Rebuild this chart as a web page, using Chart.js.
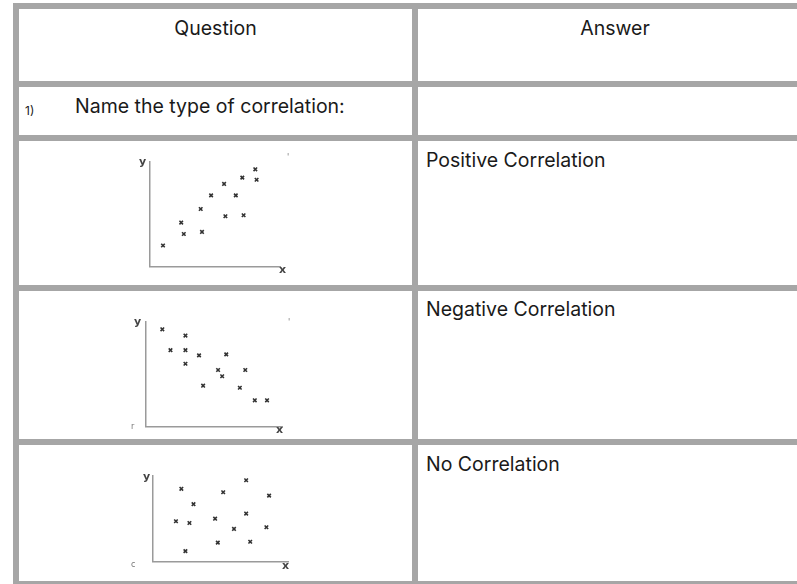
<!DOCTYPE html>
<html>
<head>
<meta charset="utf-8">
<script src="https://cdn.jsdelivr.net/npm/chart.js@4/dist/chart.umd.min.js"></script>
<style>
  body { margin: 0; background: #fff; width: 797px; height: 584px; overflow: hidden; position: relative; font-family: Inter, "Noto Sans", sans-serif; color: #1a1a1a; }
  .rule { position: absolute; background: #a6a6a6; }
  .txt { position: absolute; font-size: 19.5px; line-height: 19.5px; white-space: nowrap; }
  .lbl { position: absolute; font-family: "DejaVu Sans", sans-serif; font-weight: bold; font-size: 11px; line-height: 11px; color: #444; }
  .mark { position: absolute; font-family: "DejaVu Sans", sans-serif; font-size: 8px; line-height: 8px; color: #777; }
  canvas { position: absolute; }
</style>
</head>
<body>
<!-- table grid -->
<div class="rule" style="left:13px;top:3px;width:800px;height:6px"></div>
<div class="rule" style="left:13px;top:3px;width:6px;height:600px"></div>
<div class="rule" style="left:412px;top:3px;width:6px;height:600px"></div>
<div class="rule" style="left:13px;top:81px;width:800px;height:6px"></div>
<div class="rule" style="left:13px;top:135px;width:800px;height:6px"></div>
<div class="rule" style="left:13px;top:285px;width:800px;height:6px"></div>
<div class="rule" style="left:13px;top:439px;width:800px;height:6px"></div>
<div class="rule" style="left:13px;top:581px;width:800px;height:6px"></div>

<div class="txt" style="left:19px;width:393px;text-align:center;top:19px">Question</div>
<div class="txt" style="left:418px;width:394px;text-align:center;top:19px">Answer</div>
<div class="txt" style="left:25px;top:105px;font-size:12px;line-height:12px">1)</div>
<div class="txt" style="left:75px;top:97px">Name the type of correlation:</div>
<div class="txt" style="left:426px;top:151px">Positive Correlation</div>
<div class="txt" style="left:426px;top:300px">Negative Correlation</div>
<div class="txt" style="left:426px;top:455px">No Correlation</div>

<canvas id="posChart"></canvas>
<canvas id="negChart"></canvas>
<canvas id="noneChart"></canvas>

<div class="lbl" style="left:139px;top:156px">y</div>
<div class="lbl" style="left:279px;top:264px">x</div>
<div class="mark" style="left:287px;top:154px">'</div>
<div class="lbl" style="left:134px;top:316px">y</div>
<div class="lbl" style="left:276px;top:424px">x</div>
<div class="mark" style="left:288px;top:319px">'</div>
<div class="mark" style="left:131px;top:423px">r</div>
<div class="lbl" style="left:143px;top:471px">y</div>
<div class="lbl" style="left:282px;top:560px">x</div>
<div class="mark" style="left:131px;top:561px">c</div>

<script>
// axis range shared by the three sketches
var axisMin = 0;
var axisMax = 10;

// positive correlation
var posX = [1.0, 2.4, 2.6, 4.0, 3.9, 4.7, 5.7, 5.8, 6.6, 7.1, 7.2, 8.1, 8.2];
var posY = [2.0, 4.2, 3.1, 3.3, 5.5, 6.8, 7.9, 4.8, 6.8, 8.5, 4.9, 9.3, 8.3];

// negative correlation
var negX = [1.2, 2.9, 1.8, 2.9, 3.9, 5.9, 2.9, 5.3, 7.3, 5.6, 4.2, 6.9, 8.0, 8.9];
var negY = [9.3, 8.7, 7.3, 7.3, 6.8, 6.9, 6.0, 5.4, 5.4, 4.8, 3.9, 3.7, 2.5, 2.5];

// no correlation
var noneX = [6.9, 2.1, 5.2, 8.6, 3.0, 6.9, 1.7, 4.6, 2.7, 6.0, 8.4, 4.8, 7.2, 2.4];
var noneY = [9.5, 8.5, 8.1, 7.7, 6.7, 5.6, 4.7, 5.0, 4.5, 3.8, 4.0, 2.2, 2.3, 1.2];

function makePlot(id, xs, ys, box) {
    var m = 10;
    var el = document.getElementById(id);
    el.width = box.right - box.left + 2 * m;
    el.height = box.bottom - box.top + m + 5;
    el.style.left = (box.left - m) + 'px';
    el.style.top = (box.top - m) + 'px';

    var axis = {
        type: 'linear',
        min: axisMin,
        max: axisMax,
        ticks: { display: false },
        grid: { display: false },
        border: { display: true, color: '#9a9a9a', width: 1.5 }
    };

    return new Chart(el, {
        type: 'scatter',
        data: {
            datasets: [{
                data: xs.map(function(x, i) { return { x: x, y: ys[i] }; }),
                pointStyle: 'crossRot',
                radius: 2.5,
                borderColor: '#333',
                borderWidth: 1.6
            }]
        },
        options: {
            responsive: false,
            animation: false,
            events: [],
            layout: { padding: { left: m, top: m, right: m, bottom: 5 } },
            plugins: { legend: { display: false }, tooltip: { enabled: false } },
            scales: {
                x: Object.assign({}, axis, { afterFit: function(s) { s.height = 0; } }),
                y: Object.assign({}, axis, { afterFit: function(s) { s.width = 0; } })
            }
        }
    });
}

makePlot('posChart', posX, posY, { left: 150, top: 162, right: 280, bottom: 267 });
makePlot('negChart', negX, negY, { left: 146, top: 322, right: 282, bottom: 427 });
makePlot('noneChart', noneX, noneY, { left: 153, top: 476, right: 288, bottom: 562 });
</script>
</body>
</html>
